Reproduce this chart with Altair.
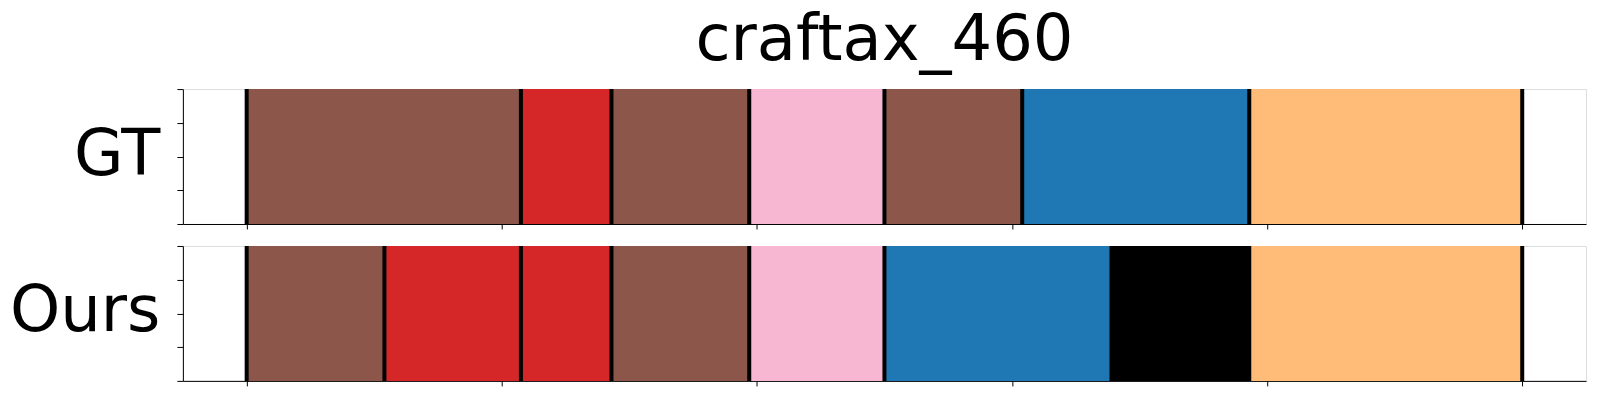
import altair as alt
import pandas as pd

title_text = "craftax_460"
row_names = ["GT", "Ours"]

# segment boundaries (time steps) and segment classes
gt_bounds = [0, 107.5, 143, 197, 250, 304, 393, 500]
gt_labels = ["c5", "c3", "c5", "c6", "c5", "c0", "c1"]
ours_bounds = [0, 54, 107.5, 143, 197, 250, 339, 393, 500]
ours_labels = ["c5", "c3", "c3", "c5", "c6", "c0", "c7", "c1"]

class_names = ["c0", "c1", "c3", "c5", "c6", "c7"]
class_colors = ["#1f77b4", "#ffbb78", "#d62728", "#8c564b", "#f7b6d2", "#000000"]

x_ticks = [0, 100, 200, 300, 400, 500]
y_ticks = [0, 0.25, 0.5, 0.75, 1]

FONT = "DejaVu Sans"
W, H = 1404, 135


def panel(name, bounds, labels):
    seg = pd.DataFrame({"start": bounds[:-1], "end": bounds[1:], "cls": labels,
                        "y0": 0.0, "y1": 1.0})
    bnd = pd.DataFrame({"x": bounds, "y0": 0.0, "y1": 1.0})
    xs = alt.Scale(domain=[-25, 525], nice=False, zero=False)
    ys = alt.Scale(domain=[0, 1], nice=False, zero=False)
    xaxis = alt.Axis(values=x_ticks, labels=False, title=None, tickSize=5, grid=False,
                     domainColor="black", tickColor="black", domainWidth=1, tickWidth=1)
    yaxis = alt.Axis(values=y_ticks, labels=False, title=name, tickSize=6, grid=False,
                     domainColor="black", tickColor="black", domainWidth=1, tickWidth=1,
                     titleAngle=0, titleFontSize=64, titleFont=FONT, titleFontWeight="normal",
                     titleColor="black", titleAlign="right", titleBaseline="alphabetic",
                     titleX=-23, titleY=85)
    rect = alt.Chart(seg).mark_rect().encode(
        x=alt.X("start:Q", scale=xs, axis=xaxis),
        x2="end:Q",
        y=alt.Y("y0:Q", scale=ys, axis=yaxis),
        y2="y1:Q",
        color=alt.Color("cls:N", scale=alt.Scale(domain=class_names, range=class_colors),
                        legend=None),
    )
    rules = alt.Chart(bnd).mark_rule(color="black", strokeWidth=4).encode(
        x=alt.X("x:Q", scale=xs, axis=xaxis),
        y=alt.Y("y0:Q", scale=ys, axis=yaxis),
        y2="y1:Q",
    )
    return alt.layer(rect, rules).properties(width=W, height=H)


top = panel(row_names[0], gt_bounds, gt_labels).properties(
    title=alt.TitleParams(text=title_text, fontSize=64, font=FONT, fontWeight="normal",
                          color="black", anchor="middle", frame="group",
                          baseline="alphabetic", offset=-37)
)
bottom = panel(row_names[1], ours_bounds, ours_labels)

chart = alt.vconcat(top, bottom, spacing=13).properties(
    padding={"left": 0, "top": 0, "right": 5, "bottom": 5}
).configure_view(stroke="black", strokeWidth=1).configure(background="white")

chart.save("out.html", embed_options={"renderer": "svg", "actions": False})
